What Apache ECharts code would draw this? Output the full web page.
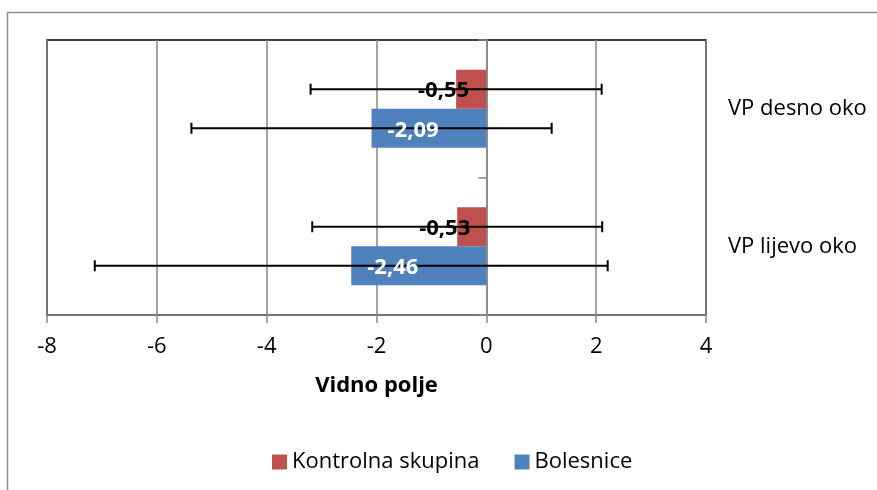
<!DOCTYPE html>
<html>
<head>
<meta charset="utf-8">
<script src="https://cdn.jsdelivr.net/npm/echarts@6/dist/echarts.min.js"></script>
<style>
html,body{margin:0;padding:0;background:#fff;}
#c{width:877px;height:490px;}
</style>
</head>
<body>
<div id="c"></div>
<script>
const categories = ['VP desno oko', 'VP lijevo oko'];
const kontrolna = [-0.55, -0.53];
const bolesnice = [-2.09, -2.46];
const kontrolnaErr = [2.65, 2.64];
const bolesniceErr = [3.28, 4.67];
const xTicks = { min: -8, max: 4, interval: 2 };
const seriesNames = ['Kontrolna skupina', 'Bolesnice'];

const FONT = 'Open Sans';
const FS = 22;
const BAR_FRAC = 0.284;

const chart = echarts.init(document.getElementById('c'));

function fmt(v) { return v.toFixed(2).replace('.', ','); }

function errData(means, errs) {
  return means.map((m, i) => [i, m, errs[i]]);
}

// sign: -1 upper bar (Kontrolna), +1 lower bar (Bolesnice)
function errRender(sign, labelColor, labelMode) {
  return function (params, api) {
    const cat = api.value(0);
    const mean = api.value(1);
    const err = api.value(2);
    const band = api.size([0, 1])[1];
    const off = sign * band * BAR_FRAC / 2;
    const p1 = api.coord([mean - err, cat]);
    const p2 = api.coord([mean + err, cat]);
    const pm = api.coord([mean, cat]);
    const y = p1[1] + off;
    const cap = 5.5;
    const st = { stroke: '#000', lineWidth: 2 };
    const tx = labelMode === 'right' ? pm[0] + 13 : pm[0] + 16;
    return {
      type: 'group',
      children: [
        { type: 'line', shape: { x1: p1[0], y1: y, x2: p2[0], y2: y }, style: st },
        { type: 'line', shape: { x1: p1[0], y1: y - cap, x2: p1[0], y2: y + cap }, style: st },
        { type: 'line', shape: { x1: p2[0], y1: y - cap, x2: p2[0], y2: y + cap }, style: st },
        {
          type: 'text',
          x: tx, y: y + 2,
          style: {
            text: fmt(mean),
            fill: labelColor,
            font: 'bold ' + FS + 'px "' + FONT + '"',
            align: labelMode === 'right' ? 'right' : 'left',
            verticalAlign: 'middle'
          }
        }
      ]
    };
  };
}

const option = {
  animation: false,
  textStyle: { fontFamily: FONT },
  graphic: [{
    type: 'rect',
    shape: { x: 7.5, y: 12.5, width: 1000, height: 1000 },
    style: { fill: 'none', stroke: '#8c8c8c', lineWidth: 1.5 },
    silent: true, z: -10
  }],
  grid: {
    left: 47, top: 40, right: 171, bottom: 175,
    show: true, borderColor: '#000', borderWidth: 1.5, backgroundColor: 'transparent'
  },
  legend: {
    left: 267, top: 446,
    itemWidth: 15, itemHeight: 15, itemGap: 35,
    icon: 'rect',
    textStyle: { fontFamily: FONT, fontSize: FS, color: '#000' },
    data: seriesNames
  },
  xAxis: {
    type: 'value',
    min: xTicks.min, max: xTicks.max, interval: xTicks.interval,
    axisLine: { show: true, lineStyle: { color: '#868686', width: 1.5 } },
    axisTick: { show: true, length: 8, lineStyle: { color: '#868686', width: 1.5 } },
    splitLine: { show: true, lineStyle: { color: '#868686', width: 1.5 } },
    axisLabel: { fontFamily: FONT, fontSize: FS, color: '#000', margin: 21 },
    name: 'Vidno polje',
    nameLocation: 'middle',
    nameGap: 60,
    nameTextStyle: { fontFamily: FONT, fontSize: FS, fontWeight: 'bold', color: '#000' }
  },
  yAxis: [{
    type: 'category',
    data: categories,
    inverse: true,
    position: 'right',
    axisLine: { show: false, onZero: false },
    axisTick: { show: false },
    axisLabel: { fontFamily: FONT, fontSize: FS, color: '#000', margin: 22 }
  }, {
    type: 'category',
    data: categories,
    inverse: true,
    position: 'left',
    axisLine: { show: true, onZero: true, lineStyle: { color: '#868686', width: 1.5 } },
    axisTick: { show: true, length: 8, lineStyle: { color: '#868686', width: 1.5 } },
    axisLabel: { show: false }
  }],
  series: [{
    name: seriesNames[0],
    type: 'bar',
    data: kontrolna,
    barWidth: (BAR_FRAC * 100) + '%',
    barGap: '0%',
    itemStyle: { color: '#C0504D' },
    z: 2
  }, {
    name: seriesNames[1],
    type: 'bar',
    data: bolesnice,
    barWidth: (BAR_FRAC * 100) + '%',
    barGap: '0%',
    itemStyle: { color: '#4F81BD' },
    z: 2
  }, {
    type: 'custom',
    name: 'errK',
    data: errData(kontrolna, kontrolnaErr),
    renderItem: errRender(-1, '#000', 'right'),
    encode: { x: 1, y: 0 },
    z: 3, silent: true
  }, {
    type: 'custom',
    name: 'errB',
    data: errData(bolesnice, bolesniceErr),
    renderItem: errRender(1, '#fff', 'left'),
    encode: { x: 1, y: 0 },
    z: 3, silent: true
  }]
};
chart.setOption(option);
</script>
</body>
</html>
